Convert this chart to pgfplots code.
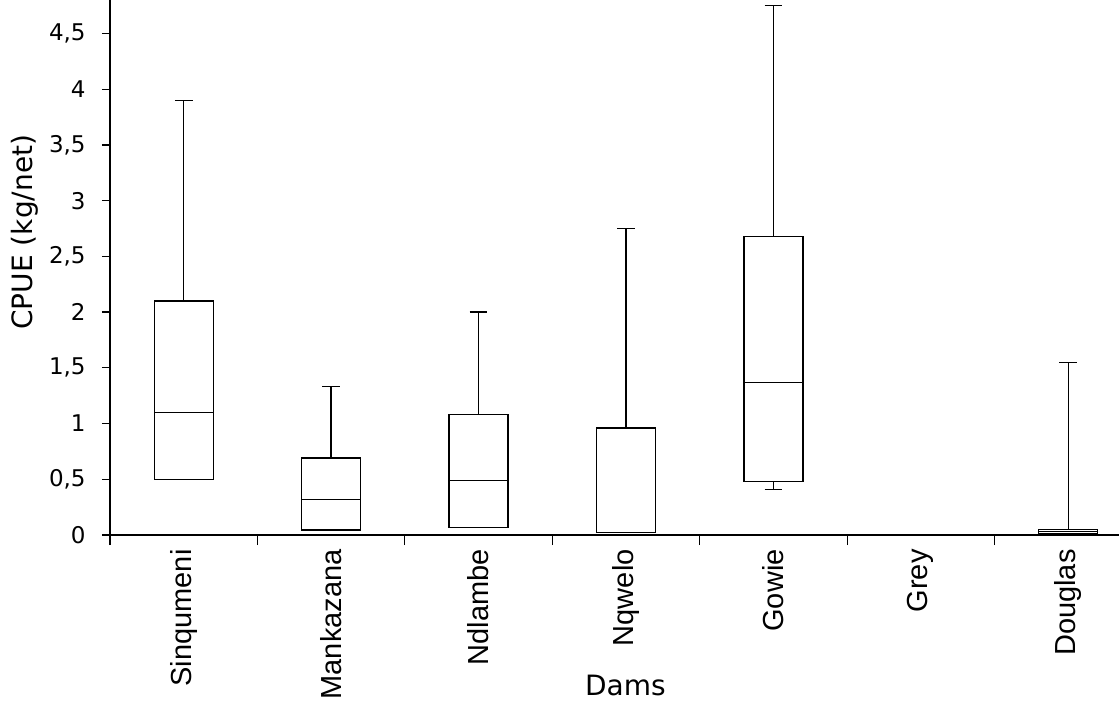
\documentclass[border=0pt]{standalone}
\usepackage{pgfplots}
\pgfplotsset{compat=1.18}
\usepgfplotslibrary{statistics}
\usepackage{fontspec}
\setmainfont{DejaVu Sans}
\newfontfamily\arialfont{Liberation Sans}
\begin{document}
\begin{tikzpicture}
\begin{axis}[
  at={(0,0)}, anchor=south west,
  scale only axis, width=516pt, height=267.5pt,
  xmin=0.5, xmax=7.5, ymin=0, ymax=4.8,
  axis lines=left, axis line style={-, line width=1pt, black},
  tick align=outside,
  xtick={1,2,3,4,5,6,7},
  xticklabels={Sinqumeni,Mankazana,Ndlambe,Nqwelo,Gowie,Grey,Douglas},
  major x tick style={draw=none},
  minor xtick={0.5,1.5,2.5,3.5,4.5,5.5,6.5,7.5},
  minor tick length=5pt,
  minor x tick style={black, line width=0.6pt},
  ytick={0,0.5,1,1.5,2,2.5,3,3.5,4,4.5},
  major tick length=4pt,
  major y tick style={black, line width=0.6pt},
  /pgf/number format/.cd, use comma, fixed, assume math mode=true, /pgfplots/.cd,
  yticklabel style={font=\fontsize{11.5}{13}\selectfont, inner sep=0pt, xshift=-8pt},
  xticklabel shift=3pt,
  xticklabel style={font=\arialfont\fontsize{14.5}{16}\selectfont, rotate=90, anchor=east, inner sep=0pt},
  ylabel={CPUE (kg/net)},
  ylabel style={font=\fontsize{14}{16}\selectfont, at={(axis description cs:-0.0824,0.566)}, anchor=center},
  xlabel={Dams},
  xlabel style={font=\fontsize{14}{16}\selectfont, at={(axis description cs:0.4995,-0.2804)}, anchor=center},
  boxplot/draw direction=y,
  boxplot/box extend=0.4,
  boxplot/whisker extend=0.12,
  clip=false,
]
\addplot[black, line width=0.65pt, boxplot prepared={draw position=1, lower whisker=0.5, lower quartile=0.5, median=1.1, upper quartile=2.1, upper whisker=3.9}] coordinates {};
\addplot[black, line width=0.65pt, boxplot prepared={draw position=2, lower whisker=0.045, lower quartile=0.045, median=0.32, upper quartile=0.69, upper whisker=1.33}] coordinates {};
\addplot[black, line width=0.65pt, boxplot prepared={draw position=3, lower whisker=0.07, lower quartile=0.07, median=0.49, upper quartile=1.08, upper whisker=2.0}] coordinates {};
\addplot[black, line width=0.65pt, boxplot prepared={draw position=4, lower whisker=0.02, lower quartile=0.02, median=0.02, upper quartile=0.96, upper whisker=2.75}] coordinates {};
\addplot[black, line width=0.65pt, boxplot prepared={draw position=5, lower whisker=0.41, lower quartile=0.48, median=1.37, upper quartile=2.68, upper whisker=4.75}] coordinates {};
\addplot[black, line width=0.65pt, boxplot prepared={draw position=7, lower whisker=0.01, lower quartile=0.01, median=0.03, upper quartile=0.05, upper whisker=1.55}] coordinates {};
\end{axis}
\pgfresetboundingbox
\path[use as bounding box] (-55pt,-86pt) rectangle (504.5pt,267.5pt);
\end{tikzpicture}
\end{document}
